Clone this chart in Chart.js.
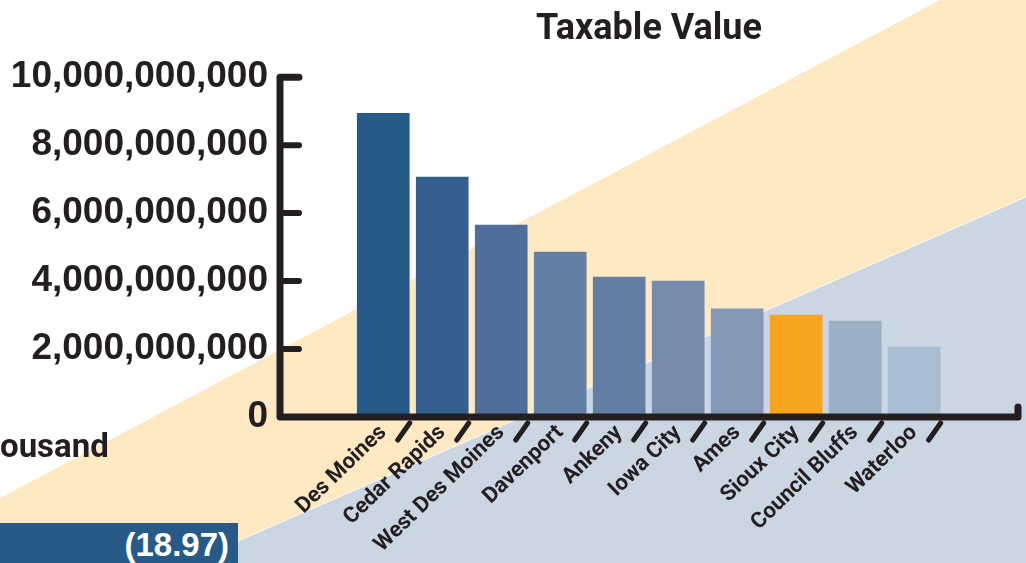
<!DOCTYPE html>
<html>
<head>
  <meta charset="utf-8">
  <title>Taxable Value</title>
  <script src="https://cdn.jsdelivr.net/npm/chart.js"></script>
  <style>
    html, body { margin: 0; padding: 0; background: #fff; }
    #wrap { position: relative; width: 1026px; height: 563px; overflow: hidden; }
    #chart { position: absolute; left: 0; top: 0; }
    #note { position: absolute; left: 0; top: 426px; font: bold 33px Roboto, sans-serif; color: #231F20; }
    #rate { position: absolute; left: 0; top: 523px; width: 238px; height: 40px; background: #275A89;
            color: #fff; font: bold 33px "Liberation Sans", Arial, sans-serif; text-align: right;
            box-sizing: border-box; padding-right: 9px; line-height: 44px; }
  </style>
</head>
<body>
  <div id="wrap">
    <canvas id="chart" width="1026" height="563"></canvas>
    <div id="note">ousand</div>
    <div id="rate">(18.97)</div>
  </div>

  <script>
    const cities = ['Des Moines', 'Cedar Rapids', 'West Des Moines', 'Davenport', 'Ankeny',
                    'Iowa City', 'Ames', 'Sioux City', 'Council Bluffs', 'Waterloo'];
    const taxable = [8940000000, 7060000000, 5650000000, 4850000000, 4120000000,
                     4000000000, 3180000000, 3000000000, 2820000000, 2060000000];
    const barColors = ['#265A88', '#355F8F', '#4F6E99', '#627FA5', '#627EA5',
                       '#778BAD', '#8499B5', '#F7A51F', '#9CB0C5', '#A8BDD2'];
    const yTicks = [0, 2000000000, 4000000000, 6000000000, 8000000000, 10000000000];

    const ink = '#231F20';

    // background bands
    const bands = {
      id: 'bands',
      beforeDraw(chart) {
        const c = chart.ctx, w = chart.width, h = chart.height;
        c.save();
        c.fillStyle = '#fff';
        c.fillRect(0, 0, w, h);
        c.fillStyle = '#FEE9C3';
        c.beginPath();
        c.moveTo(0, 498); c.lineTo(940, 0); c.lineTo(w, 0); c.lineTo(w, h); c.lineTo(0, h);
        c.closePath(); c.fill();
        c.fillStyle = '#CAD6E2';
        c.beginPath();
        c.moveTo(0, 645); c.lineTo(w, 197); c.lineTo(w, h); c.lineTo(0, h);
        c.closePath(); c.fill();
        c.strokeStyle = 'rgba(255,255,255,0.8)';
        c.lineWidth = 1;
        c.beginPath(); c.moveTo(0, 645); c.lineTo(w, 197); c.stroke();
        c.restore();
      }
    };

    // axes drawn by hand: L-shaped frame, short ticks inside, slanted marks under bars
    const frame = {
      id: 'frame',
      afterDatasetsDraw(chart) {
        const c = chart.ctx, a = chart.chartArea;
        const x = chart.scales.x, y = chart.scales.y;
        const top = y.getPixelForValue(yTicks[yTicks.length - 1]);
        const base = y.getPixelForValue(0);
        c.save();
        c.strokeStyle = ink;
        c.lineCap = 'round';
        c.lineJoin = 'round';
        c.lineWidth = 7;
        c.beginPath();
        c.moveTo(a.left + 19, top);
        c.lineTo(a.left, top);
        c.lineTo(a.left, base);
        c.lineTo(a.right, base);
        c.lineTo(a.right, base - 10);
        c.stroke();
        c.lineWidth = 6;
        yTicks.slice(1, -1).forEach(v => {
          const py = y.getPixelForValue(v);
          c.beginPath(); c.moveTo(a.left, py); c.lineTo(a.left + 19, py); c.stroke();
        });
        c.lineWidth = 5;
        cities.forEach((_, i) => {
          const px = x.getPixelForValue(i + 0.5);
          c.beginPath(); c.moveTo(px - 3, base + 6); c.lineTo(px - 15, base + 23); c.stroke();
        });
        c.restore();
      }
    };

    new Chart(document.getElementById('chart'), {
      type: 'bar',
      data: {
        datasets: [{
          data: cities.map((c, i) => ({ x: i, y: taxable[i] })),
          backgroundColor: barColors,
          barThickness: 52,
          borderWidth: 0
        }]
      },
      options: {
        responsive: false,
        animation: false,
        layout: { padding: { left: 10, right: 8, top: 0, bottom: 0 } },
        plugins: {
          legend: { display: false },
          tooltip: { enabled: false },
          title: {
            display: true,
            text: 'Taxable Value',
            fullSize: false,
            color: ink,
            font: { family: 'Roboto', size: 36, weight: 'bold' },
            padding: { top: 8, bottom: 26 }
          }
        },
        scales: {
          x: {
            type: 'linear',
            offset: false,
            min: -1.75,
            max: 10.76,
            grid: { display: false, drawTicks: false },
            border: { display: false },
            afterBuildTicks: s => { s.ticks = cities.map((c, i) => ({ value: i })); },
            afterFit: s => { s.height = 146; },
            ticks: {
              autoSkip: false,
              minRotation: 44,
              maxRotation: 44,
              padding: 3,
              color: ink,
              font: { family: 'Roboto', size: 22, weight: 'bold' },
              callback: v => cities[v]
            }
          },
          y: {
            min: 0,
            max: 10000000000,
            grid: { display: false, drawTicks: false },
            border: { display: false },
            afterBuildTicks: s => { s.ticks = yTicks.map(v => ({ value: v })); },
            afterFit: s => { s.width = 270; },
            ticks: {
              padding: 12,
              color: ink,
              font: { family: 'Liberation Sans', size: 37, weight: 'bold' },
              callback: v => v.toLocaleString('en-US')
            }
          }
        }
      },
      plugins: [bands, frame]
    });
  </script>
</body>
</html>
